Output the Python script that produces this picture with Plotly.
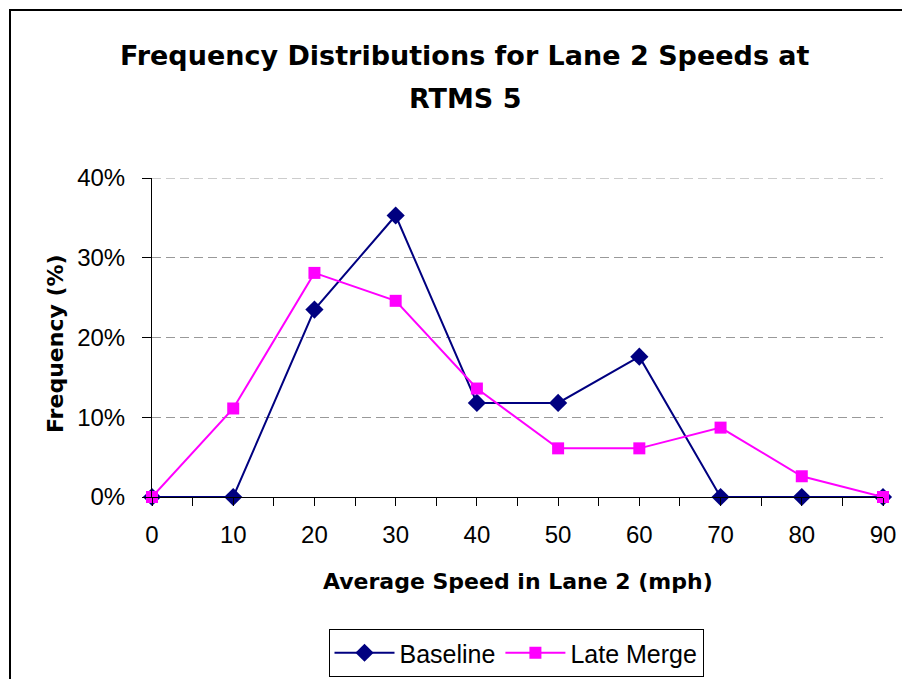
import plotly.graph_objects as go

speed = [0, 10, 20, 30, 40, 50, 60, 70, 80, 90]
baseline = [0, 0, 23.5, 35.3, 11.8, 11.8, 17.6, 0, 0, 0]
late_merge = [0, 11.1, 28.1, 24.6, 13.6, 6.1, 6.1, 8.7, 2.6, 0]
pct_ticks = [0, 10, 20, 30, 40]
pct_labels = ["0%", "10%", "20%", "30%", "40%"]

# page body has an 8px margin, so work in figure pixels = screen pixels - 8
OFF = 8
W, H = 910 - OFF, 679 - OFF
L, R, T, B = 152 - OFF, 883 - OFF, 178 - OFF, 497 - OFF  # plot area


def px(x):
    return (x - OFF - L) / (R - L)


def py(y):
    return (B - (y - OFF)) / (B - T)


fig = go.Figure()
fig.add_trace(go.Scatter(x=speed, y=baseline, name="Baseline", mode="lines+markers",
                         line=dict(color="#000080", width=2),
                         marker=dict(symbol="diamond", size=14, color="#000080"),
                         cliponaxis=False))
fig.add_trace(go.Scatter(x=speed, y=late_merge, name="Late Merge", mode="lines+markers",
                         line=dict(color="#FF00FF", width=2),
                         marker=dict(symbol="square", size=12, color="#FF00FF"),
                         cliponaxis=False))

font = "Liberation Sans, Arial, sans-serif"
bold = "DejaVu Sans, Verdana, sans-serif"

fig.update_layout(
    width=W, height=H,
    margin=dict(l=L, r=W - R, t=T, b=H - B, autoexpand=False),
    paper_bgcolor="white", plot_bgcolor="white",
    font=dict(family=font, size=24, color="black"),
    showlegend=True,
    legend=dict(orientation="h", x=px(516), y=py(653), xanchor="center", yanchor="middle",
                bordercolor="black", borderwidth=1, font=dict(size=25), itemwidth=60),
    xaxis=dict(range=[0, 90], tickvals=speed, ticks="outside", ticklen=8, tickcolor="black",
               ticklabelstandoff=8,
               showline=True, linecolor="black", linewidth=1, showgrid=False, zeroline=False,
               minor=dict(dtick=5, tick0=0, ticks="outside", ticklen=8, tickcolor="black")),
    yaxis=dict(range=[0, 40], tickvals=pct_ticks, ticktext=pct_labels,
               ticks="outside", ticklen=9, tickcolor="black", ticklabelstandoff=12,
               showline=True, linecolor="black", linewidth=1, zeroline=False,
               showgrid=True, gridcolor="#999999", griddash="9px,5px", gridwidth=1),
    annotations=[
        dict(text="<b>Frequency Distributions for Lane 2 Speeds at</b>", x=px(465), y=py(55),
             xref="paper", yref="paper", showarrow=False, font=dict(family=bold, size=27),
             xanchor="center", yanchor="middle"),
        dict(text="<b>RTMS 5</b>", x=px(465), y=py(98),
             xref="paper", yref="paper", showarrow=False, font=dict(family=bold, size=27),
             xanchor="center", yanchor="middle"),
        dict(text="<b>Average Speed in Lane 2 (mph)</b>", x=px(518), y=py(581),
             xref="paper", yref="paper", showarrow=False, font=dict(family=bold, size=22),
             xanchor="center", yanchor="middle"),
        dict(text="<b>Frequency (%)</b>", x=px(55), y=py(343), textangle=-90,
             xref="paper", yref="paper", showarrow=False, font=dict(family=bold, size=22),
             xanchor="center", yanchor="middle"),
    ],
    shapes=[
        dict(type="line", xref="paper", yref="y", x0=0, x1=1, y0=pct_ticks[-1], y1=pct_ticks[-1],
             line=dict(color="#999999", width=1, dash="9px,5px"), layer="below"),
        dict(type="rect", xref="paper", yref="paper", x0=px(10), x1=px(930), y0=py(700), y1=py(10),
             line=dict(color="black", width=2), layer="below"),
    ],
)

fig.write_html("out.html")
